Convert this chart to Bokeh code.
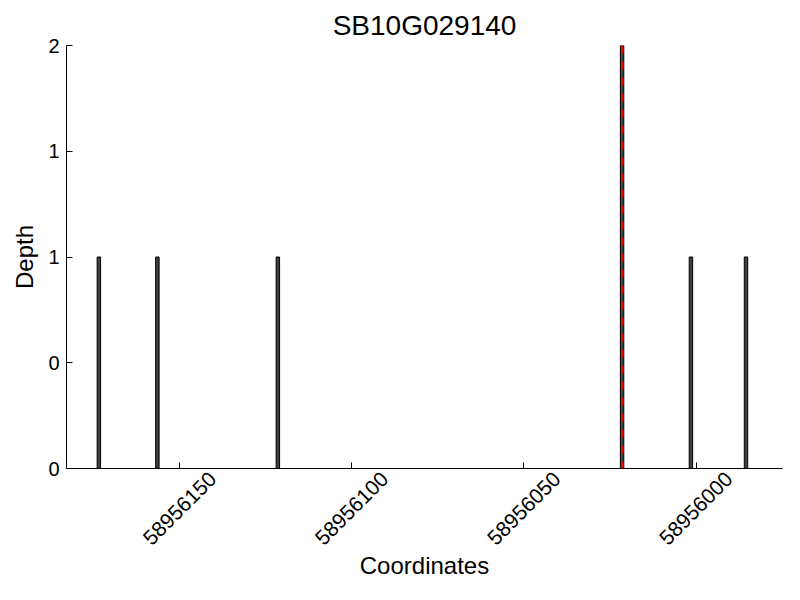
from bokeh.plotting import figure
from bokeh.models import Range1d, FixedTicker, Span, LinearAxis
from bokeh.embed import file_html
from bokeh.resources import INLINE

title_text = "SB10G029140"
positions = [58956173.5, 58956156.5, 58956121.5, 58956021.5, 58956001.5, 58955985.5]
depths = [1, 1, 1, 2, 1, 1]
marker_pos = 58956021.5
x_ticks = [58956150, 58956100, 58956050, 58956000]
x_tick_labels = ["58956150", "58956100", "58956050", "58956000"]
y_ticks = [0, 0.5, 1, 1.5, 2]
y_tick_labels = ["0", "0", "1", "1", "2"]

FONT = "Liberation Sans"
X0, X1 = 58956182.9, 58955974.9
LABEL_SHIFT = 9.6  # visual shift so rotated labels sit centred under their ticks

p = figure(width=784, height=584, output_backend="svg", toolbar_location=None,
           x_range=Range1d(X0, X1), y_range=Range1d(0, 2),
           min_border_left=66, min_border_right=2, min_border_top=45, min_border_bottom=116)
p.title.text = title_text
p.title.align = "center"
p.title.text_font = FONT
p.title.text_font_size = "28px"
p.title.text_font_style = "normal"
p.title.text_color = "black"

p.vbar(x=positions, top=depths, bottom=0, width=1, fill_color="#404040", line_color="black", line_width=1)
p.add_layout(Span(location=marker_pos, dimension="height", line_color="red", line_width=2, line_dash="8 8"))

p.grid.visible = False
p.outline_line_color = None

xa = p.below[0]
ya = p.left[0]
xa.ticker = FixedTicker(ticks=x_ticks)
xa.major_label_overrides = {t: "" for t in x_ticks}
xa.major_label_text_font_size = "0px"
xa.major_label_standoff = 0
ya.ticker = FixedTicker(ticks=y_ticks)
ya.major_label_overrides = {(int(t) if float(t).is_integer() else t): l for t, l in zip(y_ticks, y_tick_labels)}

for ax in (xa, ya):
    ax.major_tick_in = 6
    ax.major_tick_out = 0
    ax.minor_tick_line_color = None
    ax.axis_line_color = "black"
    ax.major_tick_line_color = "black"
    ax.axis_label_text_font = FONT
    ax.axis_label_text_font_size = "24px"
    ax.axis_label_text_font_style = "normal"
    ax.axis_label_text_color = "black"

ya.major_label_text_font = FONT
ya.major_label_text_font_size = "20px"
ya.major_label_text_color = "black"
ya.major_label_standoff = 7
ya.axis_label_standoff = 7
ya.axis_label = "Depth"

# label axis: same ticks/text, only the tick labels drawn
p.extra_x_ranges = {"lab": Range1d(X0 + LABEL_SHIFT, X1 + LABEL_SHIFT)}
lab = LinearAxis(x_range_name="lab", ticker=FixedTicker(ticks=x_ticks),
                 major_label_overrides={t: l for t, l in zip(x_ticks, x_tick_labels)},
                 major_label_orientation=0.785398, major_label_standoff=7,
                 axis_line_color=None, major_tick_line_color=None, minor_tick_line_color=None,
                 major_tick_in=0, major_tick_out=0,
                 major_label_text_font=FONT, major_label_text_font_size="21px",
                 major_label_text_color="black",
                 axis_label="Coordinates", axis_label_standoff=-2,
                 axis_label_text_font=FONT, axis_label_text_font_size="24px",
                 axis_label_text_font_style="normal", axis_label_text_color="black")
p.add_layout(lab, "below")

open("out.html", "w").write(file_html(p, INLINE))
